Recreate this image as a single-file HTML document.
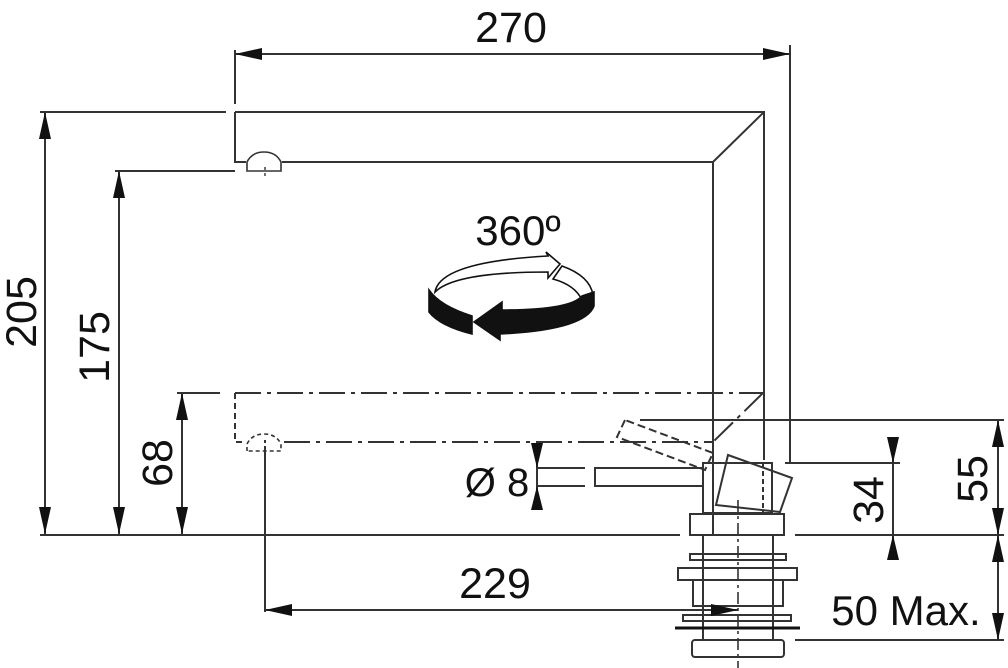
<!DOCTYPE html>
<html><head><meta charset="utf-8"><style>
html,body{margin:0;padding:0;background:#fff;}
svg{display:block;}
text{font-family:"Liberation Sans",Arial,sans-serif;fill:#111;}
</style></head><body>
<svg width="1008" height="668" viewBox="0 0 1008 668" xmlns="http://www.w3.org/2000/svg">
<g stroke="#333" stroke-width="2" fill="none">
<line x1="235" y1="50" x2="235" y2="104"/>
<line x1="235" y1="54" x2="790" y2="54"/>
<line x1="790" y1="45" x2="790" y2="462"/>
<path d="M235 112 H764 V460"/>
<path d="M235 112 V162 H246"/>
<path d="M282 162 H713 L764 112"/>
<line x1="713" y1="162" x2="713" y2="535"/>
<path d="M247 171 V162 Q252 152 264 152 Q276 152 281 162 V171 Z" stroke-width="1.6"/>
<line x1="265" y1="167" x2="265" y2="178" stroke-dasharray="3 3" stroke-width="1.4"/>
<line x1="40" y1="112" x2="226" y2="112"/>
<line x1="45" y1="112" x2="45" y2="534"/>
<line x1="115" y1="171" x2="235" y2="171"/>
<line x1="119" y1="171" x2="119" y2="534"/>
<line x1="177" y1="393" x2="220" y2="393"/>
<line x1="182" y1="393" x2="182" y2="534"/>
<g stroke-dasharray="26 6 4 6">
<line x1="235" y1="393" x2="763" y2="393"/>
<line x1="763" y1="393" x2="713" y2="442"/>
<line x1="284" y1="442" x2="713" y2="442"/>
</g>
<path d="M235 393 V442 H246" stroke-dasharray="6 4"/>
<path d="M247 451 V444 Q252 434 264 434 Q276 434 281 444 V451 Z" stroke-dasharray="4 3" stroke-width="1.6"/>
<line x1="265" y1="448" x2="265" y2="612" />
<line x1="265" y1="440" x2="265" y2="456" stroke-dasharray="3 3"/>
<line x1="40" y1="535" x2="680" y2="535"/>
<line x1="795" y1="535" x2="1004" y2="535"/>
<line x1="640" y1="420" x2="1004" y2="420"/>
<line x1="785" y1="463" x2="900" y2="463"/>
<line x1="795" y1="640" x2="1004" y2="640"/>
<line x1="998" y1="420" x2="998" y2="640"/>
<line x1="893" y1="437" x2="893" y2="560"/>
<line x1="265" y1="610" x2="738" y2="610"/>
<line x1="537" y1="442" x2="537" y2="510"/>
<line x1="537" y1="468" x2="585" y2="468"/>
<line x1="537" y1="486" x2="585" y2="486"/>
<rect x="595" y="468" width="108" height="18"/>
<polygon points="625,420 617,437 705,470 713,453" stroke-dasharray="8 4"/>
<rect x="703" y="463" width="69" height="50"/>
<polygon points="728,455 792,478 780,512 716,505" />
<line x1="763" y1="463" x2="763" y2="513" stroke-dasharray="5 3"/>
<rect x="690" y="514" width="94" height="21"/>
<line x1="703" y1="535" x2="703" y2="640"/>
<line x1="773" y1="535" x2="773" y2="640"/>
<rect x="690" y="554" width="96" height="6"/>
<rect x="678" y="568" width="119" height="12"/>
<rect x="693" y="580" width="90" height="26"/>
<rect x="683" y="615" width="108" height="6"/>
<line x1="675" y1="628" x2="800" y2="628" stroke-width="3" stroke="#111"/>
<rect x="692" y="640" width="92" height="17" rx="3"/>
<line x1="738" y1="500" x2="738" y2="668" stroke-dasharray="12 4 3 4" stroke-width="1.6"/>
</g>
<g fill="#111">
<polygon points="235,54 262,48 262,60"/>
<polygon points="790,54 763,48 763,60"/>
<polygon points="45,112 39,139 51,139"/>
<polygon points="45,534 39,507 51,507"/>
<polygon points="119,171 113,198 125,198"/>
<polygon points="119,534 113,507 125,507"/>
<polygon points="182,393 176,420 188,420"/>
<polygon points="182,534 176,507 188,507"/>
<polygon points="265,610 292,604 292,616"/>
<polygon points="738,610 711,604 711,616"/>
<polygon points="537,468 531,443 543,443"/>
<polygon points="537,486 531,510 543,510"/>
<polygon points="893,463 887,437 899,437"/>
<polygon points="893,535 887,560 899,560"/>
<polygon points="998,420 992,447 1004,447"/>
<polygon points="998,535 992,508 1004,508"/>
<polygon points="998,535 992,562 1004,562"/>
<polygon points="998,640 992,613 1004,613"/>
</g>
<g stroke="#111" stroke-width="1.6">
<path d="M435 292 Q440 262 548 256 L546 252 L560 264 L548 278 L548 272 Q455 272 435 292 Z" fill="#fff"/>
<path d="M562 266 Q590 276 593 295 L582 300 Q575 285 553 279 Z" fill="#fff"/>
<path d="M429 290 L429 312 Q440 326 472 334 L472 316 Q440 306 429 290 Z" fill="#111"/>
<path d="M594 292 L594 306 Q585 330 500 334 L500 340 L474 322 L502 302 L502 310 Q570 310 582 296 Z" fill="#111"/>
</g>
<text x="511" y="42" font-size="43" text-anchor="middle">270</text>
<text x="518" y="245" font-size="42" text-anchor="middle">360º</text>
<text x="495" y="598" font-size="43" text-anchor="middle">229</text>
<text x="497" y="496" font-size="40" text-anchor="middle">Ø 8</text>
<text x="906" y="625" font-size="42" text-anchor="middle">50 Max.</text>
<text transform="translate(36 312) rotate(-90)" font-size="43" text-anchor="middle">205</text>
<text transform="translate(109 347) rotate(-90)" font-size="43" text-anchor="middle">175</text>
<text transform="translate(172 463) rotate(-90)" font-size="43" text-anchor="middle">68</text>
<text transform="translate(883 500) rotate(-90)" font-size="43" text-anchor="middle">34</text>
<text transform="translate(987 479) rotate(-90)" font-size="43" text-anchor="middle">55</text>
</svg>
</body></html>
